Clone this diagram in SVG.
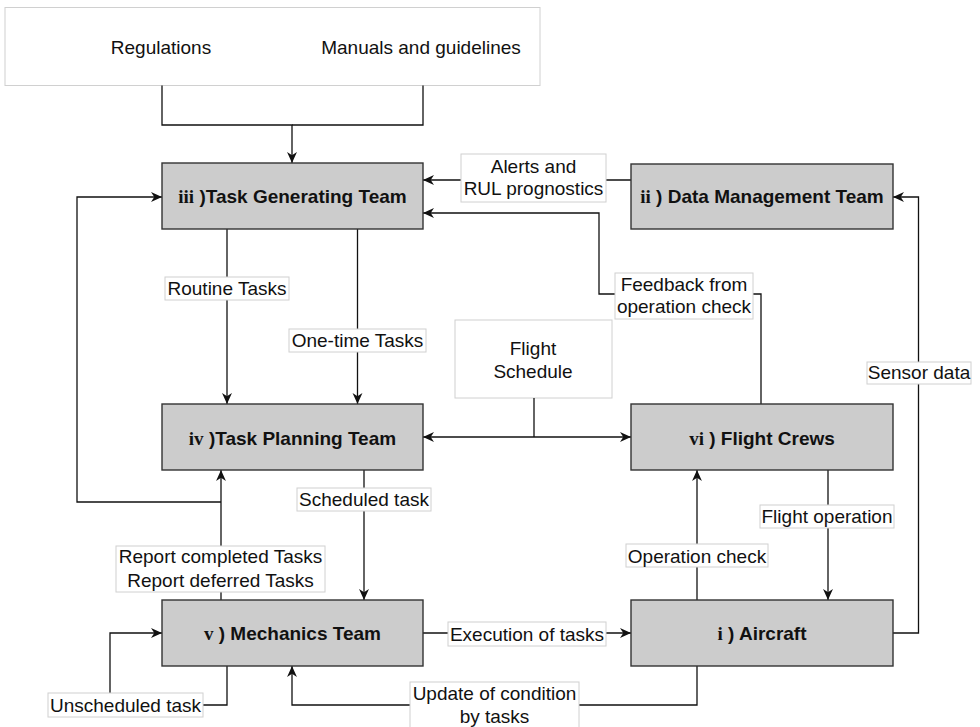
<svg xmlns="http://www.w3.org/2000/svg" width="980" height="727" viewBox="0 0 980 727">
<defs>
<style>
.node rect{fill:#cccccc;stroke:#333333;stroke-width:1.4}
.src rect{fill:#ffffff;stroke:#d0d0d0;stroke-width:1}
.nt{font-family:"Liberation Sans",Arial,sans-serif;font-size:19px;font-weight:bold;fill:#111;text-anchor:middle}
.rn{font-family:"Liberation Serif","Times New Roman",serif;font-weight:bold}
.lt{font-family:"Liberation Sans",Arial,sans-serif;font-size:19px;fill:#111;text-anchor:middle}
.lb{fill:#ffffff;stroke:#d0d0d0;stroke-width:1}
.edges path{fill:none;stroke:#111;stroke-width:1.3}
.arr{marker-end:url(#ah)}
</style>
<marker id="ah" viewBox="0 0 10 10" refX="10" refY="5" markerWidth="11" markerHeight="11" markerUnits="userSpaceOnUse" orient="auto">
<path d="M0,0.5 L10,5 L0,9.5 L3,5 Z" fill="#111"/>
</marker>
</defs>
<rect width="980" height="727" fill="#ffffff"/>

<g id="sources" class="src">
<rect x="5" y="7.5" width="535" height="78"/>
<text class="lt" x="161" y="54">Regulations</text>
<text class="lt" x="421" y="54">Manuals and guidelines</text>
</g>

<g id="flight-schedule" class="src">
<rect x="455" y="320" width="157" height="78"/>
<text class="lt" x="533" y="355">Flight</text>
<text class="lt" x="533" y="378">Schedule</text>
</g>

<g class="edges" id="connectors">
<path class="arr" d="M162,85.5 V125 H292 V163"/>
<path d="M423,85.5 V125 H292"/>
<path class="arr" d="M631,180 H423"/>
<path class="arr" d="M761,404 V294 H599 V213 H423"/>
<path class="arr" d="M221,600 V470"/>
<path class="arr" d="M221,502 H77 V197 H162"/>
<path class="arr" d="M227,229 V404"/>
<path class="arr" d="M357.5,229 V404"/>
<path d="M534,398 V437"/>
<path class="arr" d="M534,437 H423"/>
<path class="arr" d="M534,437 H631"/>
<path class="arr" d="M364,470 V600"/>
<path class="arr" d="M423,633 H631"/>
<path class="arr" d="M697,600 V470"/>
<path class="arr" d="M828,470 V600"/>
<path class="arr" d="M893,633 H918.5 V197 H893"/>
<path class="arr" d="M697,666 V705 H292 V666"/>
<path class="arr" d="M227,666 V705 H110 V633 H162"/>
</g>

<g id="edge-labels">
<rect class="lb" x="461" y="154" width="145" height="48"/>
<text class="lt" x="533.5" y="172.5">Alerts and</text>
<text class="lt" x="533.5" y="195">RUL prognostics</text>
<rect class="lb" x="615" y="273" width="138" height="46"/>
<text class="lt" x="684" y="290.5">Feedback from</text>
<text class="lt" x="684" y="313">operation check</text>
<rect class="lb" x="165" y="277" width="124" height="23"/>
<text class="lt" x="227" y="295">Routine Tasks</text>
<rect class="lb" x="289" y="329" width="137" height="23"/>
<text class="lt" x="357.5" y="347">One-time Tasks</text>
<rect class="lb" x="297" y="488" width="134" height="23"/>
<text class="lt" x="364" y="506">Scheduled task</text>
<rect class="lb" x="116" y="546" width="209" height="46"/>
<text class="lt" x="220.5" y="563">Report completed Tasks</text>
<text class="lt" x="220.5" y="586.5">Report deferred Tasks</text>
<rect class="lb" x="48" y="693" width="155" height="24"/>
<text class="lt" x="125.5" y="711.5">Unscheduled task</text>
<rect class="lb" x="448" y="622" width="158" height="24"/>
<text class="lt" x="527" y="640.5">Execution of tasks</text>
<rect class="lb" x="626" y="544" width="142" height="23"/>
<text class="lt" x="697" y="562.5">Operation check</text>
<rect class="lb" x="760" y="505" width="134" height="23"/>
<text class="lt" x="827" y="523">Flight operation</text>
<rect class="lb" x="410" y="682" width="169" height="50"/>
<text class="lt" x="494.5" y="700">Update of condition</text>
<text class="lt" x="494.5" y="722.5">by tasks</text>
<rect class="lb" x="867" y="362" width="104" height="22"/>
<text class="lt" x="919" y="379">Sensor data</text>
</g>

<g id="task-generating" class="node">
<rect x="162" y="163" width="261" height="66"/>
<text class="nt" x="292.5" y="203"><tspan class="rn">iii</tspan> )Task Generating Team</text>
</g>
<g id="data-management" class="node">
<rect x="631" y="164" width="262" height="65"/>
<text class="nt" x="762" y="203"><tspan class="rn">ii</tspan> ) Data Management Team</text>
</g>
<g id="task-planning" class="node">
<rect x="162" y="404" width="261" height="66"/>
<text class="nt" x="292.5" y="445"><tspan class="rn">iv</tspan> )Task Planning Team</text>
</g>
<g id="flight-crews" class="node">
<rect x="631" y="404" width="262" height="66"/>
<text class="nt" x="762" y="445"><tspan class="rn">vi</tspan> ) Flight Crews</text>
</g>
<g id="mechanics" class="node">
<rect x="162" y="600" width="261" height="66"/>
<text class="nt" x="292.5" y="640"><tspan class="rn">v</tspan> ) Mechanics Team</text>
</g>
<g id="aircraft" class="node">
<rect x="631" y="600" width="262" height="66"/>
<text class="nt" x="762" y="640"><tspan class="rn">i</tspan> ) Aircraft</text>
</g>
</svg>
